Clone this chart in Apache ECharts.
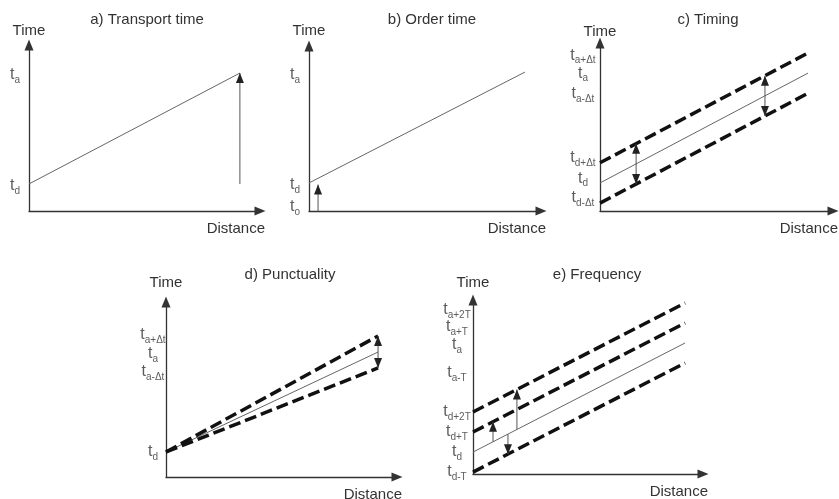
<!DOCTYPE html>
<html><head><meta charset="utf-8">
<script src="https://cdn.jsdelivr.net/npm/echarts@6/dist/echarts.min.js"></script>
<style>html,body{margin:0;padding:0;background:#fff}#c{width:839px;height:499px}</style>
</head><body><div id="c"></div>
<script>
// ---------------- data (abstract units, 0..100 on each axis) ----------------
const titles = ['a) Transport time', 'b) Order time', 'c) Timing', 'd) Punctuality', 'e) Frequency'];
const yName = 'Time';
const xName = 'Distance';

// a) Transport time
const aTickSubs = ['a', 'd'];
const aTickValues = [81.9, 15.1];
const aTrip = [[0, 16.3], [91.3, 83.1]];
const aArrow = [[91.3, 16.3], [91.3, 83.1]];

// b) Order time
const bTickSubs = ['a', 'd', 'o'];
const bTickValues = [82.4, 15.8, 2.4];
const bTrip = [[0, 17], [93.1, 84.2]];
const bArrow = [[3.9, 0], [3.9, 16]];

// c) Timing
const cTickSubs = ['a+Δt', 'a', 'a-Δt', 'd+Δt', 'd', 'd-Δt'];
const cTickValues = [92.6, 81.8, 69.6, 31.5, 19.3, 7.7];
const cPlanned = [[0, 16.7], [89.3, 82.1]];
const cLatest = [[0, 28.7], [89.3, 94.1]];
const cEarliest = [[0, 4.7], [89.3, 70.1]];
const cArrow1 = [[15.5, 40.0], [15.5, 16.0]];
const cArrow2 = [[70.8, 80.5], [70.8, 56.5]];

// d) Punctuality
const dTickSubs = ['a+Δt', 'a', 'a-Δt', 'd'];
const dTickValues = [81.1, 70.3, 60, 14.3];
const dPlanned = [[0, 14.3], [91.8, 71.4]];
const dLatest = [[0, 14.3], [91.8, 80.6]];
const dEarliest = [[0, 14.3], [91.8, 62.3]];
const dArrow = [[91.8, 80.6], [91.8, 62.3]];

// e) Frequency
const eTickSubs = ['a+2T', 'a+T', 'a', 'a-T', 'd+2T', 'd+T', 'd', 'd-T'];
const eTickValues = [94.3, 84.5, 74.1, 58, 35.6, 24.1, 12.6, 1.1];
const ePlanned = [[0, 12.6], [92.2, 75.3]];
const ePlus2T = [[0, 35.6], [92.2, 98.3]];
const ePlusT = [[0, 24.1], [92.2, 86.8]];
const eMinusT = [[0, 1.1], [92.2, 63.8]];
const eArrow1 = [[8.7, 18.5], [8.7, 30.0]];
const eArrow2 = [[19.1, 25.6], [19.1, 48.6]];
const eArrow3 = [[15.2, 22.9], [15.2, 11.4]];

// ---------------- layout / style ----------------
const FONT = '"Liberation Sans", Arial, Helvetica, sans-serif';
const TXT = '#333';
const grids = [
  { left: 29, top: 45, width: 231, height: 166 },
  { left: 309, top: 46, width: 232, height: 165 },
  { left: 600, top: 43, width: 233, height: 168 },
  { left: 166, top: 302, width: 231, height: 175 },
  { left: 473, top: 300, width: 230, height: 174 }
];
const yNameGaps = [14, 15, 11, 19, 17];
const tickOffsets = [-14, -14, -17, -13, -16];
const titlePos = [[147, 20], [432, 20], [708, 20], [290, 275], [597, 275]];

function solid(g, pts) {
  return { type: 'line', xAxisIndex: g, yAxisIndex: g, data: pts, symbol: 'none', clip: false,
    lineStyle: { color: '#666', width: 1 }, silent: true, z: 2 };
}
function dashed(g, pts) {
  return { type: 'line', xAxisIndex: g, yAxisIndex: g, data: pts, symbol: 'none', clip: false,
    lineStyle: { color: '#111', width: 3.5, type: [12, 5], cap: 'butt' }, silent: true, z: 3 };
}
function head(pt, other) {
  const up = pt[1] > other[1];
  return { value: pt, symbol: 'triangle', symbolSize: [8, 10], symbolRotate: up ? 0 : 180,
    symbolOffset: [0, up ? '50%' : '-50%'] };
}
function arrow(g, pts, both) {
  const p0 = pts[0], p1 = pts[1];
  const d0 = both ? head(p0, p1) : { value: p0, symbol: 'none' };
  const d1 = head(p1, p0);
  return { type: 'line', xAxisIndex: g, yAxisIndex: g, data: [d0, d1], clip: false, showSymbol: true,
    lineStyle: { color: '#555', width: 1 }, itemStyle: { color: '#222' }, silent: true, z: 4 };
}
function ticks(g, subs, vals) {
  return { type: 'scatter', xAxisIndex: g, yAxisIndex: g, symbolSize: 0, clip: false, silent: true,
    data: subs.map((s, k) => ({ value: [0, vals[k]], sub: s })),
    label: { show: true, position: [tickOffsets[g], 0], align: 'center', verticalAlign: 'middle',
      formatter: p => '{t|t}{s|' + p.data.sub + '}',
      rich: {
        t: { fontSize: 16, lineHeight: 20, color: TXT, fontFamily: FONT },
        s: { fontSize: 10, lineHeight: 6, verticalAlign: 'bottom', color: TXT, fontFamily: FONT }
      } } };
}

const series = [
  solid(0, aTrip), arrow(0, aArrow, false), ticks(0, aTickSubs, aTickValues),
  solid(1, bTrip), arrow(1, bArrow, false), ticks(1, bTickSubs, bTickValues),
  solid(2, cPlanned), dashed(2, cLatest), dashed(2, cEarliest),
  arrow(2, cArrow1, true), arrow(2, cArrow2, true), ticks(2, cTickSubs, cTickValues),
  solid(3, dPlanned), dashed(3, dLatest), dashed(3, dEarliest),
  arrow(3, dArrow, true), ticks(3, dTickSubs, dTickValues),
  solid(4, ePlanned), dashed(4, ePlus2T), dashed(4, ePlusT), dashed(4, eMinusT),
  arrow(4, eArrow1, false), arrow(4, eArrow2, false), arrow(4, eArrow3, false),
  ticks(4, eTickSubs, eTickValues)
];

const axisLine = { show: true, onZero: false, symbol: ['none', 'triangle'], symbolSize: [9, 11],
  lineStyle: { color: '#333', width: 1.3 } };

const option = {
  animation: false,
  backgroundColor: '#fff',
  textStyle: { fontFamily: FONT },
  grid: grids.map(g => Object.assign({ outerBoundsMode: 'none', containLabel: false }, g)),
  xAxis: grids.map((g, i) => ({
    type: 'value', gridIndex: i, min: 0, max: 100,
    axisLine, axisTick: { show: false }, axisLabel: { show: false }, splitLine: { show: false },
    name: xName, nameLocation: 'end', nameGap: 5,
    nameTextStyle: { fontSize: 15, color: TXT, fontFamily: FONT, align: 'right', verticalAlign: 'top',
      padding: [10, 0, 0, 0] }
  })),
  yAxis: grids.map((g, i) => ({
    type: 'value', gridIndex: i, min: 0, max: 100,
    axisLine, axisTick: { show: false }, axisLabel: { show: false }, splitLine: { show: false },
    name: yName, nameLocation: 'end', nameGap: yNameGaps[i],
    nameTextStyle: { fontSize: 15, color: TXT, fontFamily: FONT, align: 'center', verticalAlign: 'middle' }
  })),
  graphic: titles.map((t, i) => ({
    type: 'text', x: titlePos[i][0], y: titlePos[i][1], silent: true,
    style: { text: t, fill: TXT, font: '15px ' + FONT, align: 'center', verticalAlign: 'middle',
      textAlign: 'center', textVerticalAlign: 'middle' }
  })),
  series
};

const chart = echarts.init(document.getElementById('c'), null, { renderer: 'canvas' });
chart.setOption(option);
</script>
</body></html>
